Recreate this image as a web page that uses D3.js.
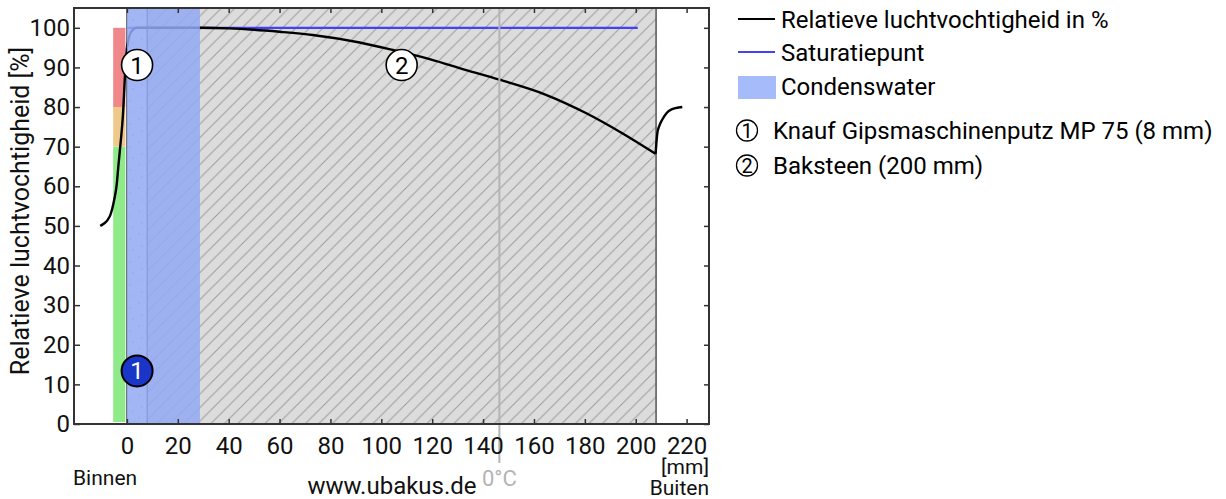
<!DOCTYPE html>
<html>
<head>
<meta charset="utf-8">
<script src="https://cdn.jsdelivr.net/npm/d3@7"></script>
<style>
  html, body { margin: 0; padding: 0; background: #fff; }
  svg { display: block; font-family: Roboto, "Noto Sans", sans-serif; }
</style>
</head>
<body>
<svg id="chart" width="1226" height="499"></svg>
<script>
// ---------------- data ----------------
const xTicks = [0, 20, 40, 60, 80, 100, 120, 140, 160, 180, 200, 220];
const yTicks = [0, 10, 20, 30, 40, 50, 60, 70, 80, 90, 100];

// layers: [start mm, end mm]
const layerNames = ["Knauf Gipsmaschinenputz MP 75 (8 mm)", "Baksteen (200 mm)"];
const layerBounds = [[0, 8], [8, 208]];
const condensZone = [0, 28.7];
const saturationSpan = [0, 200.8];
const saturationValue = 100;
const zeroDegreePos = 146.4;

// comfort bar bands [from %, to %]
const comfortBands = [[0.5, 70], [70, 80], [80, 100]];
const comfortColors = ["#8fea8a", "#efc98a", "#f0878a"];

// relative humidity curve
const rhInside = [[-10.5, 50], [-9, 50.6], [-7.5, 51.6], [-6.5, 52.8], [-5, 56.6], [-4, 60.5], [-3.3, 65.5], [-2.4, 71.5], [-1.6, 77.6], [-0.7, 88.6], [0, 95]];
const rhWall = [[0, 95], [1, 98], [2.5, 99.6], [4, 100], [8, 100], [28.7, 100], [40, 99.85], [50, 99.5], [60, 99.0], [73, 98.2], [91.5, 96.3], [104.6, 94.4], [119, 92.1], [133, 89.4], [146.4, 86.9], [164.7, 83.1], [180.4, 78.5], [194.7, 73.4], [207.8, 68.2]];
const rhOutside = [[207.8, 68.2], [208.5, 73.4], [209.3, 75.3], [210.4, 76.8], [213.7, 79.3], [218.3, 80]];

// layer markers [mm, %]
const markerTop = [[4, 90.6, "1"], [108, 90.6, "2"]];
const markerCond = [[4, 13.4, "1"]];

// ---------------- layout ----------------
const svg = d3.select("#chart");
const L = 74, R = 709, T = 8, B = 424;
const x = d3.scaleLinear().domain([-20.8, 228.8]).range([L, R]);
const y = d3.scaleLinear().domain([0, 105]).range([B, T]);

const defs = svg.append("defs");
const hatch = defs.append("pattern").attr("id", "hatch")
  .attr("patternUnits", "userSpaceOnUse").attr("width", 13.5).attr("height", 13.5);
hatch.append("rect").attr("width", 13.5).attr("height", 13.5).attr("fill", "#dcdcdc");
hatch.append("path").attr("d", "M0,13.5 L13.5,0 M-3,3 L3,-3 M10.5,16.5 L16.5,10.5")
  .attr("stroke", "#9c9c9c").attr("stroke-width", 1);

const plaster = defs.append("pattern").attr("id", "plaster")
  .attr("patternUnits", "userSpaceOnUse").attr("width", 17).attr("height", 23);
plaster.append("rect").attr("width", 17).attr("height", 23).attr("fill", "#ffffff");
[[3, 4], [11, 9], [6, 16], [14, 20]].forEach(p =>
  plaster.append("circle").attr("cx", p[0]).attr("cy", p[1]).attr("r", 0.7).attr("fill", "#8a8a8a"));

const clip = defs.append("clipPath").attr("id", "plotclip");
clip.append("rect").attr("x", L).attr("y", T).attr("width", R - L).attr("height", B - T);

const g = svg.append("g").attr("clip-path", "url(#plotclip)");

// layers
g.append("rect").attr("x", x(layerBounds[0][0])).attr("y", T)
  .attr("width", x(layerBounds[0][1]) - x(layerBounds[0][0])).attr("height", B - T)
  .attr("fill", "url(#plaster)");
g.append("rect").attr("x", x(layerBounds[1][0])).attr("y", T)
  .attr("width", x(layerBounds[1][1]) - x(layerBounds[1][0])).attr("height", B - T)
  .attr("fill", "url(#hatch)");

// comfort bar
comfortBands.forEach((b, i) => {
  g.append("rect").attr("x", x(-5.4)).attr("width", x(-0.6) - x(-5.4))
    .attr("y", y(b[1])).attr("height", y(b[0]) - y(b[1]))
    .attr("fill", comfortColors[i]);
});

// layer boundaries
[0, 8, 208].forEach(v => {
  g.append("line").attr("x1", x(v)).attr("x2", x(v)).attr("y1", T).attr("y2", B)
    .attr("stroke", "#555").attr("stroke-width", 1.5);
});

// saturation line
g.append("line").attr("x1", x(saturationSpan[0])).attr("x2", x(saturationSpan[1]))
  .attr("y1", y(saturationValue)).attr("y2", y(saturationValue))
  .attr("stroke", "#4242f8").attr("stroke-width", 2.3);

// RH curve
const line = d3.line().x(d => x(d[0])).y(d => y(d[1])).curve(d3.curveMonotoneX);
[rhInside, rhWall, rhOutside].forEach(seg => {
  g.append("path").attr("d", line(seg)).attr("fill", "none")
    .attr("stroke", "#000").attr("stroke-width", 2.4);
});

// condensation overlay
g.append("rect").attr("x", x(condensZone[0])).attr("y", T)
  .attr("width", x(condensZone[1]) - x(condensZone[0])).attr("height", B - T)
  .attr("fill", "#93a9f3").attr("fill-opacity", 0.86);

// 0°C line
svg.append("line").attr("x1", x(zeroDegreePos)).attr("x2", x(zeroDegreePos))
  .attr("y1", T).attr("y2", 463).attr("stroke", "#b4b4b4").attr("stroke-width", 2);
svg.append("text").attr("x", x(zeroDegreePos)).attr("y", 486).attr("text-anchor", "middle")
  .attr("font-size", 22).attr("fill", "#b4b4b4").text("0°C");

// axes
const tickStyle = sel => {
  sel.selectAll(".domain").remove();
  sel.selectAll(".tick line").attr("stroke", "#333").attr("stroke-width", 1.5);
  sel.selectAll(".tick text").attr("fill", "#111").attr("font-size", 24)
    .attr("font-family", "Roboto, sans-serif");
};
svg.append("g").attr("transform", `translate(0,${B})`)
  .call(d3.axisBottom(x).tickValues(xTicks).tickSizeInner(-5).tickSizeOuter(0).tickPadding(13))
  .call(tickStyle);
svg.append("g").attr("transform", `translate(0,${T})`)
  .call(d3.axisTop(x).tickValues(xTicks).tickSizeInner(-5).tickSizeOuter(0).tickFormat(""))
  .call(tickStyle);
svg.append("g").attr("transform", `translate(${L},0)`)
  .call(d3.axisLeft(y).tickValues(yTicks).tickSizeInner(-6).tickSizeOuter(0).tickPadding(4))
  .call(tickStyle);
svg.append("g").attr("transform", `translate(${R},0)`)
  .call(d3.axisRight(y).tickValues(yTicks).tickSizeInner(-5).tickSizeOuter(0).tickFormat(""))
  .call(tickStyle);

// frame
svg.append("rect").attr("x", L).attr("y", T).attr("width", R - L).attr("height", B - T)
  .attr("fill", "none").attr("stroke", "#333").attr("stroke-width", 2);

// markers
markerTop.forEach(m => {
  svg.append("circle").attr("cx", x(m[0])).attr("cy", y(m[1])).attr("r", 15.5)
    .attr("fill", "#fff").attr("stroke", "#000").attr("stroke-width", 1.6);
  svg.append("text").attr("x", x(m[0])).attr("y", y(m[1]) + 8.5).attr("text-anchor", "middle")
    .attr("font-size", 24).attr("fill", "#000").text(m[2]);
});
markerCond.forEach(m => {
  svg.append("circle").attr("cx", x(m[0])).attr("cy", y(m[1])).attr("r", 15.5)
    .attr("fill", "#1a36c8").attr("stroke", "#000").attr("stroke-width", 2);
  svg.append("text").attr("x", x(m[0])).attr("y", y(m[1]) + 8.5).attr("text-anchor", "middle")
    .attr("font-size", 24).attr("fill", "#fff").text(m[2]);
});

// axis titles & labels
svg.append("text").attr("transform", "translate(29,211) rotate(-90)").attr("text-anchor", "middle")
  .attr("font-size", 25).attr("fill", "#111").text("Relatieve luchtvochtigheid [%]");
svg.append("text").attr("x", 73).attr("y", 485).attr("font-size", 21).attr("fill", "#111").text("Binnen");
svg.append("text").attr("x", 709).attr("y", 474).attr("text-anchor", "end")
  .attr("font-size", 21).attr("fill", "#111").text("[mm]");
svg.append("text").attr("x", 709).attr("y", 495).attr("text-anchor", "end")
  .attr("font-size", 21).attr("fill", "#111").text("Buiten");
svg.append("text").attr("x", 392).attr("y", 494).attr("text-anchor", "middle")
  .attr("font-size", 24).attr("fill", "#111").text("www.ubakus.de");

// legend
const lg = svg.append("g");
lg.append("line").attr("x1", 738).attr("x2", 775).attr("y1", 19).attr("y2", 19)
  .attr("stroke", "#000").attr("stroke-width", 2);
lg.append("text").attr("x", 781).attr("y", 28).attr("font-size", 24).text("Relatieve luchtvochtigheid in %");
lg.append("line").attr("x1", 738).attr("x2", 775).attr("y1", 52).attr("y2", 52)
  .attr("stroke", "#4242f8").attr("stroke-width", 2);
lg.append("text").attr("x", 781).attr("y", 61).attr("font-size", 24).text("Saturatiepunt");
lg.append("rect").attr("x", 738).attr("y", 76).attr("width", 38).attr("height", 23).attr("fill", "#a6bcfa");
lg.append("text").attr("x", 781).attr("y", 95).attr("font-size", 24).text("Condenswater");
layerNames.forEach((n, i) => {
  const cy = 130.5 + i * 35;
  lg.append("circle").attr("cx", 747).attr("cy", cy).attr("r", 10.5)
    .attr("fill", "#fff").attr("stroke", "#000").attr("stroke-width", 1.3);
  lg.append("text").attr("x", 747).attr("y", cy + 7).attr("text-anchor", "middle")
    .attr("font-size", 20).text(String(i + 1));
  lg.append("text").attr("x", 773).attr("y", cy + 8).attr("font-size", 24).text(n);
});
</script>
</body>
</html>
